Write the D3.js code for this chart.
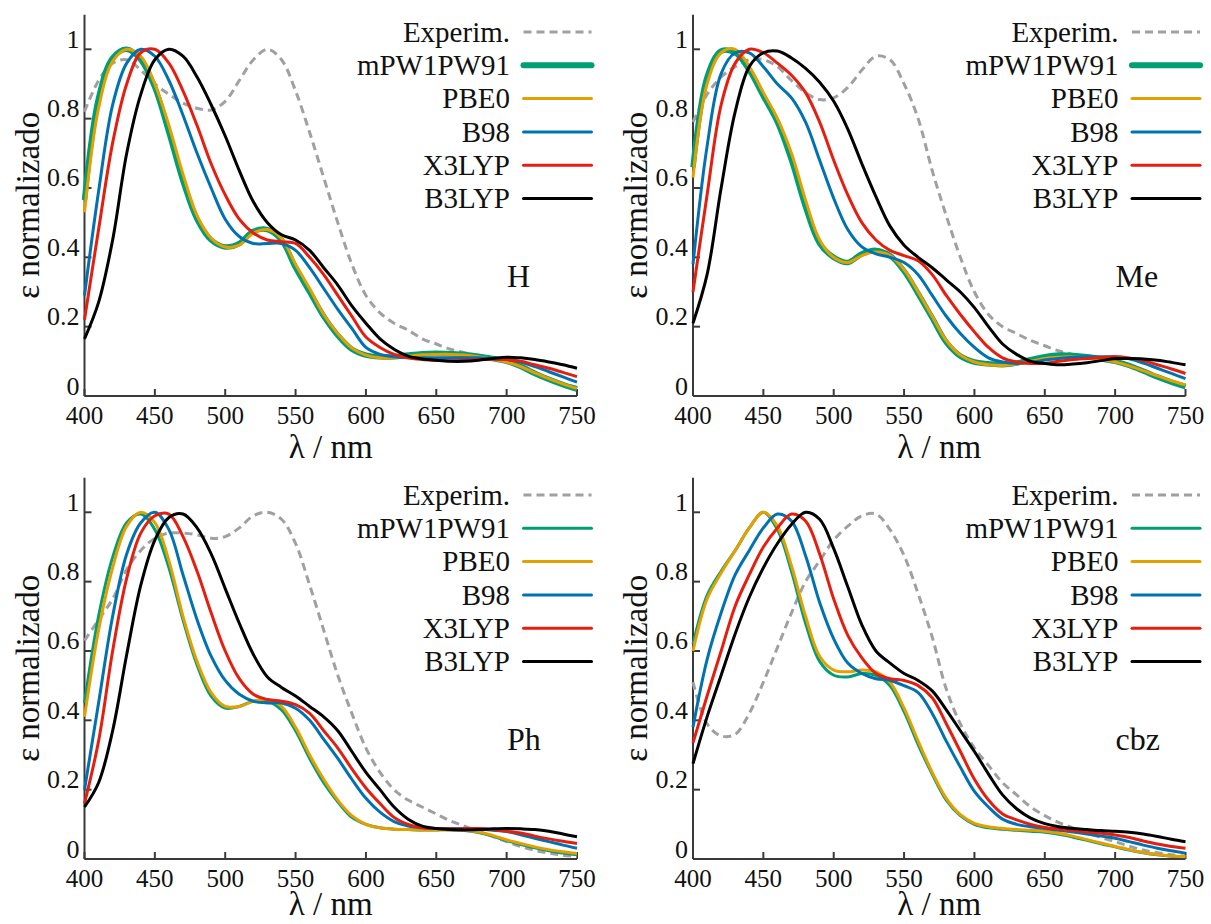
<!DOCTYPE html>
<html>
<head>
<meta charset="utf-8">
<script src="https://cdn.jsdelivr.net/npm/d3@7"></script>
<style>
  body { margin: 0; background: #fff; }
  svg { display: block; }
</style>
</head>
<body>
<svg id="chart" width="1211" height="924"></svg>
<script>
"use strict";
// wavelength grid (nm) shared by every curve
const wavelengths = [400,410,420,430,440,450,460,470,480,490,500,510,520,530,540,550,560,570,580,590,
                     600,610,620,630,640,650,660,670,680,690,700,710,720,730,740,750];
const seriesNames = ["Experim.", "mPW1PW91", "PBE0", "B98", "X3LYP", "B3LYP"];
const xTicks = [400, 450, 500, 550, 600, 650, 700, 750];
const yTicks = [0, 0.2, 0.4, 0.6, 0.8, 1];
const yTickLabels = ["0", "0.2", "0.4", "0.6", "0.8", "1"];
const panelLabels = ["H", "Me", "Ph", "cbz"];

// --- H ---
const expH  = [0.82,0.91,0.96,0.97,0.94,0.90,0.87,0.845,0.83,0.825,0.85,0.91,0.97,1.0,0.97,0.88,0.76,0.63,0.50,0.38,0.29,0.24,0.21,0.19,0.165,0.15,0.135,0.125,0.115,0.11,0.10,0.09,0.07,0.05,0.035,0.025];
const mpwH  = [0.565,0.86,0.975,1.0,0.97,0.89,0.76,0.62,0.51,0.45,0.43,0.44,0.475,0.48,0.45,0.37,0.30,0.23,0.175,0.135,0.118,0.113,0.113,0.118,0.122,0.123,0.122,0.12,0.115,0.108,0.10,0.085,0.065,0.048,0.033,0.02];
const pbeH  = [0.53,0.83,0.965,1.0,0.98,0.90,0.78,0.64,0.52,0.455,0.43,0.435,0.47,0.48,0.455,0.38,0.31,0.235,0.18,0.138,0.118,0.11,0.11,0.115,0.119,0.12,0.12,0.118,0.113,0.106,0.098,0.085,0.067,0.05,0.035,0.022];
const b98H  = [0.29,0.59,0.84,0.96,1.0,0.98,0.91,0.81,0.70,0.60,0.51,0.46,0.44,0.44,0.44,0.42,0.37,0.31,0.25,0.195,0.14,0.12,0.113,0.11,0.11,0.11,0.11,0.11,0.11,0.107,0.105,0.097,0.085,0.07,0.055,0.04];
const x3H   = [0.22,0.48,0.73,0.90,0.99,1.0,0.96,0.88,0.78,0.67,0.58,0.51,0.47,0.45,0.445,0.44,0.40,0.35,0.29,0.23,0.17,0.14,0.12,0.11,0.105,0.103,0.102,0.103,0.105,0.106,0.105,0.10,0.09,0.08,0.068,0.056];
const b3H   = [0.165,0.27,0.45,0.70,0.87,0.97,1.0,0.98,0.92,0.84,0.75,0.65,0.56,0.50,0.465,0.45,0.42,0.37,0.32,0.26,0.21,0.165,0.135,0.115,0.107,0.103,0.10,0.10,0.103,0.108,0.112,0.11,0.105,0.098,0.09,0.08];

// --- Me ---
const expMe = [0.79,0.87,0.92,0.95,0.97,0.97,0.95,0.91,0.875,0.855,0.86,0.89,0.94,0.98,0.97,0.90,0.80,0.65,0.52,0.40,0.30,0.235,0.20,0.18,0.16,0.145,0.13,0.12,0.11,0.105,0.10,0.09,0.07,0.055,0.04,0.03];
const mpwMe = [0.66,0.92,0.995,0.99,0.94,0.865,0.79,0.68,0.545,0.44,0.40,0.385,0.41,0.42,0.405,0.36,0.295,0.225,0.155,0.115,0.098,0.093,0.09,0.095,0.105,0.113,0.118,0.117,0.113,0.107,0.10,0.088,0.072,0.055,0.04,0.027];
const pbeMe = [0.63,0.90,0.99,1.0,0.95,0.875,0.80,0.70,0.565,0.45,0.40,0.385,0.405,0.415,0.405,0.365,0.30,0.23,0.16,0.118,0.098,0.09,0.088,0.092,0.10,0.108,0.112,0.113,0.11,0.105,0.098,0.087,0.073,0.058,0.044,0.032];
const b98Me = [0.38,0.72,0.93,0.99,0.99,0.95,0.90,0.86,0.79,0.68,0.57,0.48,0.43,0.41,0.40,0.385,0.35,0.29,0.23,0.18,0.14,0.11,0.098,0.094,0.097,0.104,0.108,0.112,0.113,0.113,0.113,0.107,0.095,0.08,0.065,0.05];
const x3Me  = [0.30,0.58,0.84,0.96,1.0,0.99,0.96,0.925,0.875,0.79,0.68,0.58,0.50,0.45,0.42,0.405,0.39,0.35,0.29,0.235,0.185,0.14,0.11,0.098,0.094,0.094,0.10,0.105,0.108,0.111,0.113,0.11,0.102,0.09,0.078,0.065];
const b3Me  = [0.21,0.35,0.60,0.82,0.95,0.99,0.995,0.975,0.945,0.905,0.85,0.77,0.67,0.575,0.49,0.435,0.40,0.37,0.335,0.30,0.255,0.20,0.15,0.12,0.10,0.094,0.09,0.092,0.096,0.102,0.108,0.108,0.107,0.103,0.097,0.09];

// --- Ph ---
const expPh = [0.63,0.69,0.75,0.835,0.89,0.925,0.94,0.94,0.935,0.925,0.93,0.955,0.99,1.0,0.98,0.91,0.79,0.66,0.53,0.42,0.32,0.25,0.20,0.17,0.15,0.13,0.11,0.095,0.08,0.065,0.05,0.036,0.025,0.017,0.011,0.007];
const mpwPh = [0.45,0.70,0.87,0.97,0.995,0.95,0.84,0.69,0.56,0.47,0.435,0.44,0.455,0.455,0.43,0.37,0.29,0.22,0.165,0.12,0.10,0.09,0.086,0.085,0.084,0.084,0.084,0.082,0.076,0.066,0.053,0.042,0.032,0.024,0.017,0.012];
const pbePh = [0.41,0.66,0.84,0.96,1.0,0.97,0.86,0.70,0.57,0.48,0.44,0.44,0.455,0.46,0.44,0.38,0.30,0.23,0.17,0.125,0.10,0.09,0.086,0.085,0.084,0.084,0.084,0.083,0.078,0.068,0.055,0.045,0.035,0.027,0.021,0.016];
const b98Ph = [0.20,0.45,0.70,0.88,0.97,1.0,0.95,0.82,0.69,0.585,0.515,0.475,0.455,0.45,0.45,0.435,0.40,0.345,0.29,0.23,0.175,0.135,0.108,0.095,0.09,0.088,0.088,0.088,0.087,0.083,0.079,0.07,0.06,0.05,0.04,0.031];
const x3Ph  = [0.16,0.34,0.60,0.81,0.94,0.99,0.995,0.93,0.83,0.71,0.60,0.52,0.475,0.46,0.455,0.445,0.42,0.37,0.32,0.26,0.205,0.16,0.12,0.10,0.09,0.088,0.087,0.087,0.088,0.085,0.08,0.075,0.066,0.058,0.051,0.045];
const b3Ph  = [0.15,0.22,0.37,0.59,0.79,0.92,0.985,0.995,0.955,0.88,0.78,0.68,0.59,0.525,0.495,0.47,0.44,0.41,0.37,0.31,0.25,0.20,0.15,0.115,0.095,0.088,0.085,0.084,0.085,0.087,0.088,0.087,0.085,0.08,0.072,0.064];

// --- cbz ---
const expCbz = [0.51,0.39,0.355,0.36,0.42,0.51,0.61,0.71,0.80,0.86,0.92,0.96,0.99,0.995,0.95,0.875,0.765,0.64,0.49,0.39,0.32,0.27,0.22,0.185,0.15,0.125,0.105,0.09,0.076,0.062,0.05,0.037,0.026,0.018,0.012,0.008];
const mpwCbz = [0.62,0.76,0.83,0.89,0.955,1.0,0.95,0.83,0.68,0.57,0.53,0.525,0.535,0.53,0.50,0.425,0.33,0.245,0.17,0.125,0.10,0.09,0.086,0.083,0.08,0.077,0.071,0.063,0.054,0.044,0.035,0.026,0.018,0.012,0.008,0.006];
const pbeCbz = [0.60,0.75,0.825,0.89,0.955,1.0,0.96,0.845,0.70,0.585,0.545,0.54,0.545,0.54,0.51,0.435,0.34,0.25,0.175,0.128,0.103,0.093,0.088,0.085,0.083,0.08,0.074,0.066,0.056,0.046,0.036,0.027,0.019,0.013,0.009,0.007];
const b98Cbz = [0.38,0.575,0.71,0.82,0.89,0.955,0.995,0.975,0.875,0.74,0.635,0.565,0.535,0.52,0.515,0.50,0.48,0.42,0.34,0.265,0.195,0.15,0.115,0.10,0.093,0.088,0.083,0.078,0.072,0.066,0.06,0.05,0.04,0.031,0.024,0.017];
const x3Cbz  = [0.335,0.47,0.60,0.73,0.82,0.90,0.955,0.995,0.975,0.88,0.75,0.645,0.58,0.535,0.52,0.515,0.50,0.465,0.39,0.31,0.23,0.17,0.13,0.113,0.10,0.091,0.086,0.082,0.078,0.074,0.069,0.062,0.052,0.043,0.036,0.031];
const b3Cbz  = [0.275,0.41,0.53,0.65,0.755,0.84,0.91,0.965,1.0,0.98,0.895,0.785,0.675,0.60,0.565,0.535,0.515,0.485,0.43,0.37,0.31,0.245,0.185,0.145,0.118,0.102,0.093,0.088,0.085,0.082,0.08,0.077,0.072,0.065,0.057,0.05];

const colors = ["#a0a0a4", "#009e73", "#e69f00", "#0072b2", "#e51e10", "#000000"];

// layout of the four panels (left edge of x axis, y of x axis)
const panels = [
  { label: panelLabels[0], x0: 84.5, yBase: 396, series: [expH, mpwH, pbeH, b98H, x3H, b3H], thickGreen: true },
  { label: panelLabels[1], x0: 693, yBase: 396, series: [expMe, mpwMe, pbeMe, b98Me, x3Me, b3Me], thickGreen: true },
  { label: panelLabels[2], x0: 84.5, yBase: 859, series: [expPh, mpwPh, pbePh, b98Ph, x3Ph, b3Ph], thickGreen: false },
  { label: panelLabels[3], x0: 693, yBase: 859, series: [expCbz, mpwCbz, pbeCbz, b98Cbz, x3Cbz, b3Cbz], thickGreen: false }
];
const plotW = 492.5;
const unitH = 346.7; // pixels per 1.0 of normalised epsilon
const fontName = "Times New Roman";
const ink = "#111";
const axisInk = "#3a3a3a";

const svg = d3.select("#chart");

function lineWidth(i, p) {
  if (i === 1 && p.thickGreen) return 5.5;
  return 3;
}

function label(parent, txt, size) {
  return parent.append("text")
    .attr("font-family", fontName)
    .attr("font-size", size)
    .attr("fill", ink)
    .text(txt);
}

function seg(parent, x1, y1, x2, y2) {
  parent.append("line")
    .attr("x1", x1).attr("y1", y1).attr("x2", x2).attr("y2", y2)
    .attr("stroke", axisInk).attr("stroke-width", 2);
}

panels.forEach(p => {
  const g = svg.append("g");
  const x = d3.scaleLinear().domain([400, 750]).range([p.x0, p.x0 + plotW]);
  const y = d3.scaleLinear().domain([0, 1.1]).range([p.yBase, p.yBase - 1.1 * unitH]);

  // axis lines with inward ticks (gnuplot style), no top/right border
  seg(g, x(400), y(0), x(750), y(0));
  seg(g, x(400), y(0), x(400), y(1.1));
  xTicks.forEach(t => {
    seg(g, x(t), y(0), x(t), y(0) - 7);
    label(g, String(t), 25)
      .attr("x", x(t)).attr("y", p.yBase + 27.5)
      .attr("text-anchor", "middle");
  });
  yTicks.forEach((t, i) => {
    seg(g, x(400), y(t), x(400) + 7, y(t));
    label(g, yTickLabels[i], 26)
      .attr("x", p.x0 - 5).attr("y", y(t) - 1.5)
      .attr("text-anchor", "end");
  });

  // axis titles
  label(g, "ε normalizado", 33)
    .attr("transform", `translate(${p.x0 - 46},${p.yBase - 0.55 * unitH}) rotate(-90)`)
    .attr("text-anchor", "middle");
  label(g, "λ / nm", 33)
    .attr("x", p.x0 + plotW / 2)
    .attr("y", Math.min(p.yBase + 62, 915))
    .attr("text-anchor", "middle");

  // curves
  const line = d3.line()
    .x((d, i) => x(wavelengths[i]))
    .y(d => y(d))
    .curve(d3.curveCatmullRom.alpha(0.5));

  p.series.forEach((vals, i) => {
    g.append("path")
      .datum(vals)
      .attr("d", line)
      .attr("fill", "none")
      .attr("stroke", colors[i])
      .attr("stroke-width", lineWidth(i, p))
      .attr("stroke-dasharray", i === 0 ? "8,5" : null)
      .attr("stroke-linejoin", "round");
  });

  // legend
  seriesNames.forEach((name, i) => {
    const ly = p.yBase - 364 + i * 33.3;
    label(g, name, 29)
      .attr("x", p.x0 + 425.5)
      .attr("y", ly + 9.7)
      .attr("text-anchor", "end");
    g.append("line")
      .attr("x1", p.x0 + 439).attr("x2", p.x0 + 507)
      .attr("y1", ly).attr("y2", ly)
      .attr("stroke", colors[i])
      .attr("stroke-width", i === 1 && p.thickGreen ? 6 : 3)
      .attr("stroke-linecap", i === 0 ? "butt" : "round")
      .attr("stroke-dasharray", i === 0 ? "8,5" : null);
  });

  // panel label
  label(g, p.label, 32)
    .attr("x", p.x0 + 422.5)
    .attr("y", p.yBase - 109.3);
});
</script>
</body>
</html>
